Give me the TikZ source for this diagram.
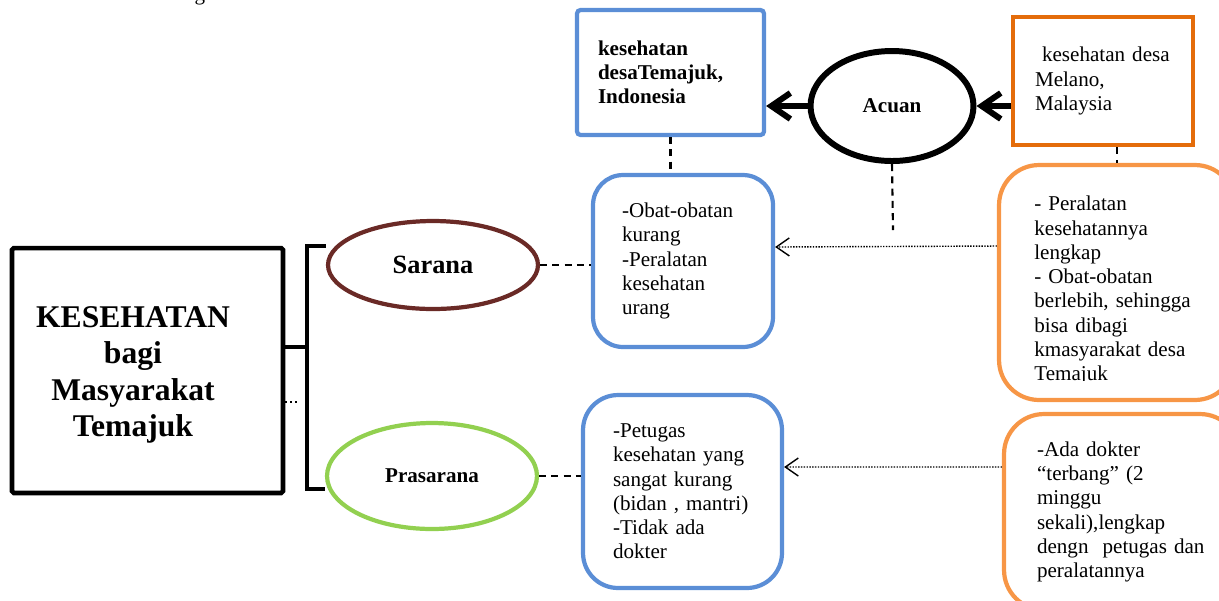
\documentclass[tikz,border=0pt]{standalone}
\usepackage{fontspec}
\setmainfont{Liberation Serif}
\usetikzlibrary{arrows.meta,shapes.geometric}
\definecolor{kblue}{HTML}{5B8ED6}
\definecolor{kmaroon}{HTML}{6A2A26}
\definecolor{kgreen}{HTML}{92D050}
\definecolor{korange}{HTML}{E46C0A}
\definecolor{klight}{HTML}{F79646}
\begin{document}
\begin{tikzpicture}[x=0.02cm, y=-0.02cm,
  txt/.style={inner sep=0, align=left, font=\fontsize{12}{13.8}\selectfont},
  box/.style={txt, draw},
  oval/.style={ellipse, draw, inner sep=0, font=\bfseries\fontsize{12}{13.8}\selectfont},
  dashline/.style={line width=1.2pt, dash pattern=on 4pt off 3pt},
  dotarrow/.style={line width=0.8pt, dash pattern=on 0.8pt off 0.8pt, -{Straight Barb[length=2.6mm,width=3.6mm]}},
  bigarrow/.style={line width=3.4pt, -{Straight Barb[length=3.8mm,width=5.2mm]}}]
\useasboundingbox (0,0) rectangle (1219,600);
\node[txt, anchor=base] (capg) at (200,0) {g};
\node[box, line width=2.6pt, rounded corners=1pt, minimum width=5.42cm, minimum height=4.9cm] (kes) at (147.5,370.5) {};
\node[inner sep=0, align=center, font=\bfseries\fontsize{18}{20.7}\selectfont] (kestxt) at (133,375) {KESEHATAN\\bagi\\Masyarakat\\Temajuk};
\node[oval, draw=kmaroon, line width=2.4pt, minimum width=4.2cm, minimum height=1.76cm, font=\bfseries\fontsize{15}{17}\selectfont] (sar) at (433,265) {Sarana};
\node[oval, draw=kgreen, line width=2.4pt, minimum width=4.2cm, minimum height=2.12cm] (pras) at (432,476) {Prasarana};
\node[oval, line width=3.4pt, minimum width=3.26cm, minimum height=2.2cm] (acu) at (892,106) {Acuan};
\node[box, draw=kblue, line width=2.4pt, rounded corners=2pt, minimum width=3.74cm, minimum height=2.5cm, text width=2.9cm, font=\bfseries\fontsize{12}{13.8}\selectfont] (tmj) at (670.5,72.5) {kesehatan\\desaTemajuk,\\Indonesia};
\node[box, draw=korange, line width=2.8pt, minimum width=3.6cm, minimum height=2.56cm, text width=2.72cm] (mly) at (1103,81) {~kesehatan desa\\Melano,\\Malaysia};
\node[box, draw=kblue, line width=2.4pt, rounded corners=0.6cm, minimum width=3.6cm, minimum height=3.44cm, text width=2.44cm] (obat) at (683,261) {-Obat-obatan\\kurang\\-Peralatan\\kesehatan\\urang};
\node[box, draw=kblue, line width=2.4pt, rounded corners=0.7cm, minimum width=3.98cm, minimum height=3.86cm, text width=2.78cm] (ptgs) at (682.5,491.5) {-Petugas\\kesehatan yang\\sangat kurang\\(bidan , mantri)\\-Tidak ada\\dokter};
\node[box, draw=klight, line width=2.4pt, rounded corners=0.8cm, minimum width=4.72cm, minimum height=4.7cm] (alat) at (1117,282.5) {};
\begin{scope}
\clip (990,160) rectangle (1240,380);
\node[txt, anchor=north west, text width=3.3cm] (alattxt) at (1034,196) {- Peralatan\\kesehatannya\\lengkap\\- Obat-obatan\\berlebih, sehingga\\bisa dibagi\\kmasyarakat desa\\Temajuk};
\end{scope}
\node[box, draw=klight, line width=2.4pt, rounded corners=0.8cm, minimum width=4.72cm, minimum height=3.92cm, text width=3.4cm] (dktr) at (1122,512) {-Ada dokter\\“terbang” (2\\minggu\\sekali),lengkap\\dengn\ \ petugas dan\\peralatannya};
% kurung
\coordinate (brtop) at (307,246);
\coordinate (brmid) at (307,347);
\coordinate (brbot) at (307,489);
\coordinate (dotend) at (298,402);
\draw[line width=2.6pt] (sar.west |- brtop) -- (brtop) -- (brbot) -- (pras.west |- brbot);
\draw[line width=2.6pt] (kes.east |- brmid) -- (brmid);
\draw[line width=0.8pt, dotted] (kes.east |- dotend) -- (dotend);
% garis putus
\draw[dashline] (sar.east) -- (sar.east -| obat.west);
\draw[dashline] (pras.east) -- (pras.east -| ptgs.west);
\draw[dashline] (tmj.south) -- (tmj.south |- obat.north);
\coordinate (acubot) at (893,230);
\draw[dashline] (acu.south) -- (acubot);
\draw[dashline] (mly.south -| alat.north) -- (alat.north);
% panah
\draw[bigarrow] (acu.west) -- (acu.west -| tmj.east);
\draw[bigarrow] (mly.west |- acu.east) -- (acu.east);
\draw[dotarrow] ([yshift=0.73cm]alat.west) -- ([yshift=0.28cm]obat.east);
\draw[dotarrow] ([yshift=0.9cm]dktr.west) -- ([yshift=0.49cm]ptgs.east);
\end{tikzpicture}
\end{document}
